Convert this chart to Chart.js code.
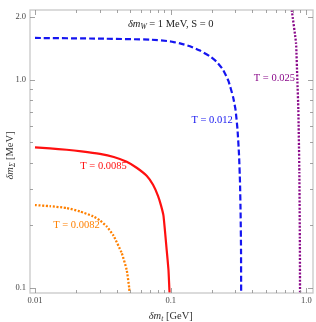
<!DOCTYPE html>
<html>
<head>
<meta charset="utf-8">
<script src="https://cdn.jsdelivr.net/npm/chart.js@4"></script>
<style>
html,body{margin:0;padding:0;background:#fff;}
#wrap{width:316px;height:322px;position:relative;}
</style>
</head>
<body>
<div id="wrap"><canvas id="c"></canvas></div>
<script>
// ---- data ----
const xTickLabels = ["0.01", "0.1", "1.0"];
const xTickValues = [0.01, 0.1, 1.0];
const yTickLabels = ["0.1", "1.0", "2.0"];
const yTickValues = [0.1, 1.0, 2.0];

// T = 0.0082 (orange, dotted)
const t0082_x = [0.01, 0.0129, 0.01713, 0.02146, 0.0269, 0.0301, 0.03377, 0.0378, 0.0435, 0.0474, 0.0495, 0.0497];
const t0082_y = [0.250, 0.247, 0.242, 0.233, 0.2207, 0.2111, 0.1975, 0.1788, 0.1474, 0.1220, 0.0997, 0.0946];

// T = 0.0085 (red, solid)
const t0085_x = [0.01, 0.0129, 0.01713, 0.02202, 0.0301, 0.03808, 0.0474, 0.05645, 0.0665, 0.0741, 0.0806, 0.0848, 0.0885, 0.0934, 0.0963, 0.0976, 0.0981];
const t0085_y = [0.473, 0.4675, 0.461, 0.4531, 0.4403, 0.4254, 0.4034, 0.3767, 0.3455, 0.3128, 0.2769, 0.2491, 0.2219, 0.1523, 0.1220, 0.1011, 0.0946];

// T = 0.012 (blue, dashed)
const t012_x = [0.01, 0.0301, 0.0704, 0.0989, 0.1171, 0.1388, 0.1644, 0.1949, 0.2176, 0.2429, 0.2667, 0.2878, 0.3003, 0.3107, 0.3187, 0.3241, 0.3275, 0.3297, 0.3304];
const t012_y = [1.586, 1.574, 1.557, 1.528, 1.493, 1.446, 1.379, 1.294, 1.220, 1.117, 0.9835, 0.828, 0.7175, 0.5747, 0.4356, 0.320, 0.2245, 0.1523, 0.0946];

// T = 0.025 (purple, dotted)
const t025_x = [0.779, 0.838, 0.857, 0.872, 0.887, 0.895, 0.897];
const t025_y = [2.16, 1.50, 1.00, 0.717, 0.357, 0.160, 0.0946];

const seriesNames = ["T = 0.0082", "T = 0.0085", "T = 0.012", "T = 0.025"];

const X_MIN = 0.00919, X_MAX = 1.118;
const Y_MIN = 0.0946, Y_MAX = 2.16;

function pts(xs, ys){ return xs.map((x,i)=>({x:x, y:ys[i]})); }

function minorList(lo, hi){
  const out = [];
  for (let e = -3; e <= 1; e++){
    for (let m = 1; m <= 9; m++){
      const v = +(m*Math.pow(10,e)).toPrecision(6);
      if (v >= lo && v <= hi) out.push(v);
    }
  }
  return out;
}
const xAllTicks = minorList(X_MIN, X_MAX);
const yAllTicks = minorList(Y_MIN, Y_MAX);

const COL = {orange:'#ff8000', red:'#ff1010', blue:'#1515f0', purple:'#8a0a8a'};

function drawRich(ctx, parts, x, y, align, size){
  let w = 0;
  const fonts = parts.map(p=>{
    const s = p[2] ? size*0.72 : size;
    const f = (p[1] ? 'italic ' : '') + s + 'px "Liberation Serif", "DejaVu Serif", serif';
    ctx.font = f;
    const ww = ctx.measureText(p[0]).width;
    w += ww;
    return {f, ww};
  });
  let cx = align === 'center' ? x - w/2 : (align === 'right' ? x - w : x);
  ctx.textAlign = 'left';
  ctx.textBaseline = 'middle';
  parts.forEach((p,i)=>{
    ctx.font = fonts[i].f;
    ctx.fillText(p[0], cx, p[2] ? y + size*0.28 : y);
    cx += fonts[i].ww;
  });
}

const framePlugin = {
  id: 'frame',
  afterDraw(chart){
    const ctx = chart.ctx, a = chart.chartArea;
    const xs = chart.scales.x, ys = chart.scales.y;
    ctx.save();
    ctx.strokeStyle = '#c8c8c8';
    ctx.lineWidth = 1.3;
    ctx.strokeRect(a.left, a.top, a.right - a.left, a.bottom - a.top);
    ctx.strokeStyle = '#8c8c8c';
    ctx.lineWidth = 0.8;
    ctx.beginPath();
    xAllTicks.forEach(v=>{
      const p = Math.round(xs.getPixelForValue(v)) + 0.5;
      const L = xTickValues.includes(v) ? 5 : 3;
      ctx.moveTo(p, a.bottom); ctx.lineTo(p, a.bottom - L);
      ctx.moveTo(p, a.top); ctx.lineTo(p, a.top + L);
    });
    yAllTicks.forEach(v=>{
      const p = Math.round(ys.getPixelForValue(v)) + 0.5;
      const L = yTickValues.includes(v) ? 5 : 3;
      ctx.moveTo(a.left, p); ctx.lineTo(a.left + L, p);
      ctx.moveTo(a.right, p); ctx.lineTo(a.right - L, p);
    });
    ctx.stroke();

    const lab = (txt, col, xv, yv, align)=>{
      ctx.fillStyle = col;
      drawRich(ctx, [[txt,false,false]], xs.getPixelForValue(xv), ys.getPixelForValue(yv), align, 10.5);
    };
    lab(seriesNames[3], COL.purple, 0.824, 1.02, 'right');
    lab(seriesNames[2], COL.blue, 0.286, 0.642, 'right');
    lab(seriesNames[1], COL.red, 0.032, 0.386, 'center');
    lab(seriesNames[0], COL.orange, 0.0202, 0.201, 'center');

    ctx.fillStyle = '#222';
    drawRich(ctx, [['δm',true,false],['W',true,true],[' = 1 MeV, S = 0',false,false]],
      xs.getPixelForValue(0.1), ys.getPixelForValue(1.84), 'center', 10.5);

    ctx.fillStyle = '#333';
    drawRich(ctx, [['δm',true,false],['t',true,true],[' [GeV]',false,false]],
      xs.getPixelForValue(0.1), a.bottom + 23, 'center', 10.5);
    ctx.translate(10, (a.top + a.bottom)/2 + 4);
    ctx.rotate(-Math.PI/2);
    drawRich(ctx, [['δm',true,false],['Σ',true,true],[' [MeV]',false,false]], 0, 0, 'center', 10.5);
    ctx.restore();
  }
};

const tickFont = {family: '"Liberation Serif", "DejaVu Serif", serif', size: 8.5};

new Chart(document.getElementById('c'), {
  type: 'scatter',
  data: {
    datasets: [
      {label: seriesNames[0], data: pts(t0082_x, t0082_y), showLine: true, borderColor: COL.orange,
       borderWidth: 2.3, borderDash: [2, 1.6], pointRadius: 0, tension: 0.15},
      {label: seriesNames[1], data: pts(t0085_x, t0085_y), showLine: true, borderColor: COL.red,
       borderWidth: 2.2, pointRadius: 0, tension: 0.15},
      {label: seriesNames[2], data: pts(t012_x, t012_y), showLine: true, borderColor: COL.blue,
       borderWidth: 2.2, borderDash: [6, 3], pointRadius: 0, tension: 0.15},
      {label: seriesNames[3], data: pts(t025_x, t025_y), showLine: true, borderColor: COL.purple,
       borderWidth: 2.3, borderDash: [2, 1.6], pointRadius: 0, tension: 0.15}
    ]
  },
  options: {
    responsive: true,
    maintainAspectRatio: false,
    animation: false,
    events: [],
    layout: {padding: {top: 10, right: 3, left: 0, bottom: 0}},
    plugins: {legend: {display: false}, tooltip: {enabled: false}, title: {display: false}},
    scales: {
      x: {
        type: 'logarithmic', min: X_MIN, max: X_MAX, position: 'bottom',
        grid: {display: false, drawTicks: false}, border: {display: false},
        afterBuildTicks: s => { s.ticks = xAllTicks.map(v=>({value: v})); },
        afterFit: s => { s.height = 29; },
        ticks: {autoSkip: false, maxRotation: 0, padding: 3, color: '#444', font: tickFont,
          callback: v => { const i = xTickValues.findIndex(t=>Math.abs(t-v)/t < 1e-6); return i >= 0 ? xTickLabels[i] : ''; }}
      },
      y: {
        type: 'logarithmic', min: Y_MIN, max: Y_MAX, position: 'left',
        grid: {display: false, drawTicks: false}, border: {display: false},
        afterBuildTicks: s => { s.ticks = yAllTicks.map(v=>({value: v})); },
        afterFit: s => { s.width = 30; },
        ticks: {autoSkip: false, padding: 4, color: '#444', font: tickFont,
          callback: v => { const i = yTickValues.findIndex(t=>Math.abs(t-v)/t < 1e-6); return i >= 0 ? yTickLabels[i] : ''; }}
      }
    }
  },
  plugins: [framePlugin]
});
</script>
</body>
</html>
